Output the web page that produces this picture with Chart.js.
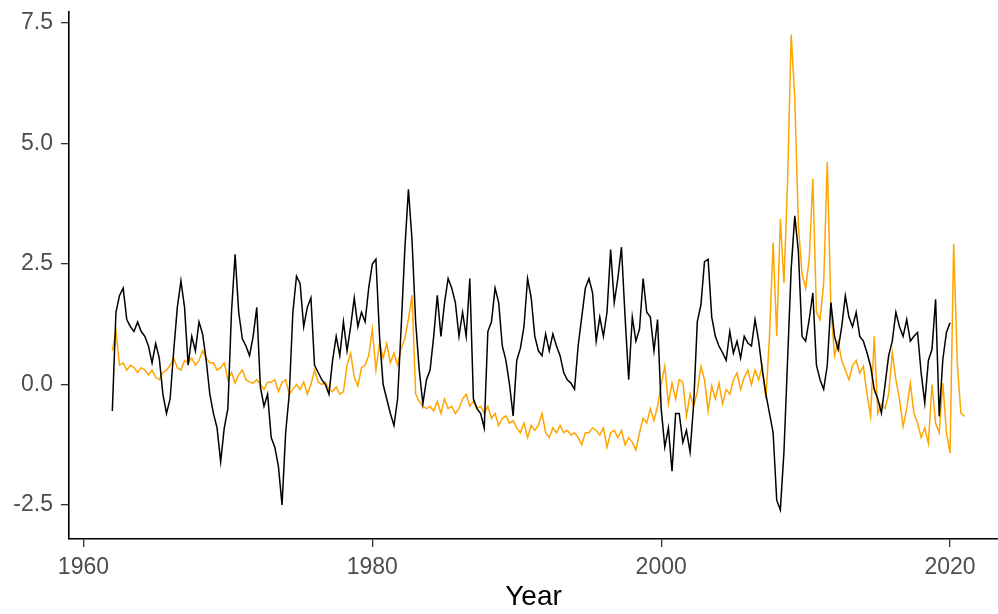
<!DOCTYPE html>
<html>
<head>
<meta charset="utf-8">
<script src="https://cdn.jsdelivr.net/npm/chart.js@4"></script>
<style>
  body { margin: 0; background: #fff; }
  #wrap { width: 998px; height: 614px; }
</style>
</head>
<body>
<div id="wrap"><canvas id="yearChart" width="998" height="614"></canvas></div>
<script>
// quarterly values, first point at START_YEAR
const START_YEAR = 1962;
const xTicks = [1960, 1980, 2000, 2020];
const yTicks = [-2.5, 0, 2.5, 5, 7.5];

const blackSeries = [
  -0.55, 1.5, 1.85, 2.0,   // 1962
  1.35, 1.2, 1.1, 1.3,
  1.1, 1.0, 0.8, 0.45,
  0.85, 0.55, -0.2, -0.6,
  -0.3, 0.7, 1.6, 2.15,
  1.6, 0.4, 1.0, 0.7,
  1.3, 1.05, 0.5, -0.2,
  -0.6, -0.9, -1.6, -0.9,
  -0.5, 1.5, 2.7, 1.5,     // 1970
  0.95, 0.8, 0.6, 1.0,
  1.6, -0.05, -0.45, -0.2,
  -1.1, -1.3, -1.7, -2.5,
  -1.0, -0.2, 1.5, 2.25,
  2.1, 1.2, 1.6, 1.8,
  0.4, 0.25, 0.1, 0.0,
  -0.2, 0.5, 1.0, 0.6,
  1.3, 0.7, 1.2, 1.8,
  1.2, 1.5, 1.3, 2.0,
  2.5, 2.6, 1.0, 0.0,      // 1980
  -0.3, -0.6, -0.85, -0.3,
  1.2, 2.8, 4.05, 3.0,
  1.3, 0.3, -0.4, 0.1,
  0.3, 1.0, 1.85, 1.0,
  1.7, 2.2, 2.0, 1.7,
  1.0, 1.5, 1.0, 2.2,
  -0.3, -0.5, -0.6, -0.9,
  1.1, 1.3, 2.0, 1.7,
  0.8, 0.5, 0.0, -0.65,
  0.5, 0.75, 1.2, 2.2,     // 1990
  1.8, 1.0, 0.7, 0.6,
  1.05, 0.7, 1.05, 0.8,
  0.6, 0.25, 0.1, 0.03,
  -0.1, 0.8, 1.4, 2.0,
  2.2, 1.9, 0.9, 1.4,
  1.0, 1.5, 2.8, 1.7,
  2.2, 2.85, 1.4, 0.1,
  1.4, 0.9, 1.15, 2.2,
  1.5, 1.4, 0.7, 1.35,
  -0.5, -1.3, -0.9, -1.8,  // 2000
  -0.6, -0.6, -1.2, -0.95,
  -1.4, -0.4, 1.3, 1.65,
  2.55, 2.6, 1.4, 1.0,
  0.8, 0.66, 0.5, 1.1,
  0.65, 0.9, 0.55, 1.0,
  0.86, 0.8, 1.35, 0.9,
  0.3, -0.2, -0.6, -1.0,
  -2.4, -2.6, -1.4, 0.5,
  2.4, 3.5, 2.76, 1.0,
  0.9, 1.35, 1.9, 0.4,     // 2010
  0.1, -0.1, 0.4, 1.7,
  1.0, 0.73, 1.2, 1.84,
  1.4, 1.2, 1.5, 1.0,
  0.9, 0.66, 0.38, -0.1,
  -0.3, -0.59, 0.0, 0.6,
  0.9, 1.5, 1.2, 1.0,
  1.35, 0.9, 1.0, 1.08,
  0.24, -0.38, 0.5, 0.73,
  1.77, -0.66, 0.52, 1.08,
  1.28                     // 2020
];

const orangeSeries = [
  0.7, 1.1, 0.4, 0.45,     // 1962
  0.3, 0.4, 0.35, 0.25,
  0.35, 0.3, 0.2, 0.3,
  0.15, 0.1, 0.25, 0.3,
  0.4, 0.55, 0.35, 0.3,
  0.5, 0.45, 0.55, 0.4,
  0.5, 0.7, 0.55, 0.45,
  0.45, 0.3, 0.35, 0.45,
  0.1, 0.25, 0.03, 0.2,    // 1970
  0.3, 0.1, 0.05, 0.03,
  0.1, 0.0, -0.1, 0.05,
  0.05, 0.1, -0.15, 0.05,
  0.1, -0.2, -0.1, 0.0,
  -0.1, 0.05, -0.2, 0.0,
  0.3, 0.05, 0.0, 0.05,
  -0.1, -0.15, -0.05, -0.2,
  -0.15, 0.4, 0.65, 0.15,
  -0.03, 0.35, 0.4, 0.6,
  1.15, 0.3, 0.85, 0.55,   // 1980
  0.85, 0.45, 0.65, 0.4,
  0.75, 0.95, 1.35, 1.85,
  -0.2, -0.35, -0.45, -0.5,
  -0.45, -0.55, -0.35, -0.6,
  -0.3, -0.5, -0.45, -0.6,
  -0.5, -0.3, -0.2, -0.45,
  -0.35, -0.5, -0.45, -0.6,
  -0.45, -0.7, -0.6, -0.85,
  -0.7, -0.65, -0.8, -0.75,
  -0.9, -1.0, -0.8, -1.1,  // 1990
  -0.85, -0.95, -0.85, -0.6,
  -1.0, -1.1, -0.9, -1.0,
  -0.85, -1.0, -0.95, -1.05,
  -1.0, -1.1, -1.25, -1.0,
  -1.0, -0.9, -0.95, -1.05,
  -0.9, -1.3, -1.0, -0.95,
  -1.1, -0.95, -1.25, -1.1,
  -1.2, -1.36, -1.0, -0.7,
  -0.8, -0.5, -0.75, -0.45,
  0.0, 0.38, -0.4, 0.03,   // 2000
  -0.3, 0.1, 0.05, -0.66,
  -0.2, -0.45, -0.15, 0.38,
  0.1, -0.55, -0.03, -0.3,
  0.03, -0.4, -0.1, -0.2,
  0.1, 0.24, -0.1, 0.15,
  0.3, 0.0, 0.3, 0.1,
  0.38, -0.3, 1.0, 2.95,
  1.0, 3.44, 2.1, 4.2,
  7.26, 5.94, 3.3, 2.3,
  2.0, 2.6, 4.27, 1.5,     // 2010
  1.35, 2.1, 4.62, 1.6,
  0.6, 0.9, 0.5, 0.3,
  0.1, 0.4, 0.5, 0.24,
  0.38, -0.2, -0.66, 1.0,
  -0.6, -0.4, -0.5, -0.2,
  0.66, 0.1, -0.3, -0.87,
  -0.5, 0.03, -0.6, -0.8,
  -1.1, -0.9, -1.22, 0.0,
  -0.8, -1.0, 0.03, -1.0,
  -1.42, 2.92, 0.45, -0.59, // 2020
  -0.66
];

const FONT = "'Liberation Sans', Arial, sans-serif";

function toPoints(vals) {
  return vals.map((v, i) => ({ x: START_YEAR + i / 4, y: v }));
}

const axisGrid = {
  drawOnChartArea: false,
  drawTicks: true,
  tickLength: 8,
  color: "#333333",
  lineWidth: 1.3
};

new Chart(document.getElementById("yearChart"), {
  type: "line",
  data: {
    datasets: [
      {
        label: "black",
        data: toPoints(blackSeries),
        borderColor: "#000000",
        borderWidth: 1.5,
        pointRadius: 0,
        tension: 0
      },
      {
        label: "orange",
        data: toPoints(orangeSeries),
        borderColor: "#FFA500",
        borderWidth: 1.5,
        pointRadius: 0,
        tension: 0
      }
    ]
  },
  options: {
    responsive: false,
    animation: false,
    layout: { padding: { top: 12, right: 0, left: 0, bottom: 0 } },
    plugins: {
      legend: { display: false },
      tooltip: { enabled: false }
    },
    scales: {
      x: {
        type: "linear",
        min: 1959.0,
        max: 2023.32,
        afterBuildTicks: s => { s.ticks = xTicks.map(v => ({ value: v })); },
        afterFit: s => {
          s.height = 75;
          s.paddingLeft = 0;
          s.paddingRight = 0;
        },
        ticks: {
          color: "#4D4D4D",
          font: { size: 23, family: FONT },
          padding: 7,
          maxRotation: 0,
          callback: v => String(v)
        },
        grid: axisGrid,
        border: { color: "#000000", width: 1.6 },
        title: {
          display: true,
          text: "Year",
          color: "#000000",
          font: { size: 28, family: FONT },
          padding: { top: 0, bottom: 0 }
        }
      },
      y: {
        min: -3.205,
        max: 7.73,
        afterBuildTicks: s => { s.ticks = yTicks.map(v => ({ value: v })); },
        afterFit: s => {
          s.width = 69;
          s.paddingTop = 0;
          s.paddingBottom = 0;
        },
        ticks: {
          color: "#4D4D4D",
          font: { size: 23, family: FONT },
          padding: 8,
          callback: v => v.toFixed(1)
        },
        grid: axisGrid,
        border: { color: "#000000", width: 1.6 }
      }
    }
  }
});
</script>
</body>
</html>
